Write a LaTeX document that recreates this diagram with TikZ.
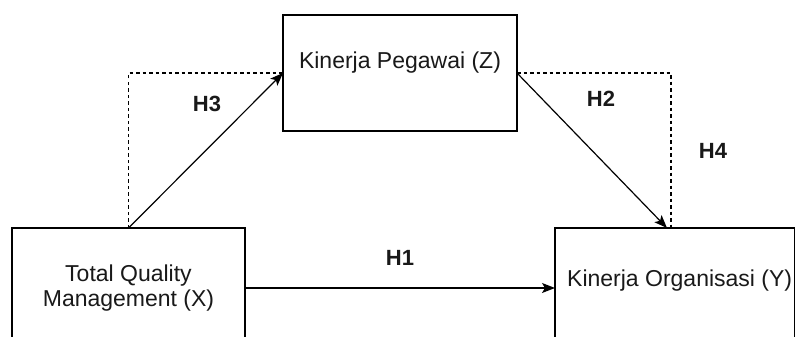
\documentclass[tikz,border=0pt]{standalone}
\usepackage{fontspec}
\setmainfont{Liberation Sans}
\usetikzlibrary{arrows.meta,calc}
\begin{document}
\begin{tikzpicture}[x=1pt,y=-1pt,
  box/.style={draw=black,line width=1.2pt,fill=white,minimum width=#1,inner sep=0pt,outer sep=0pt},
  txt/.style={font=\fontsize{23}{25.5}\selectfont,text=black!90,align=center,inner sep=0pt},
  hlab/.style={font=\fontsize{22}{25}\selectfont\bfseries,text=black!90,inner sep=0pt},
  conn/.style={line width=1.2pt,-{Stealth[length=13pt,width=10pt,inset=3pt]}},
  dashline/.style={line width=1.2pt,dash pattern=on 3.5pt off 3pt}]
\path[use as bounding box] (0,0) rectangle (795,337);
\clip (0,0) rectangle (795,337);
\node[box=233pt,minimum height=120pt] (lbox) at (128.5,288) {};
\node[box=234pt,minimum height=116pt] (tbox) at (400,73) {};
\node[box=240pt,minimum height=120pt] (rbox) at (675,288) {};
\node[txt] (ltxt) at (128.5,288) {Total Quality\\Management (X)};
\node[txt] (ttxt) at (400,63) {Kinerja Pegawai (Z)};
\node[txt,anchor=west] (rtxt) at (567,281) {Kinerja Organisasi (Y)};
\coordinate (rtop) at ($(rbox.north west)+(116,0)$);
\coordinate (rin) at ($(rbox.north west)+(112,0)$);
\draw[dashline] (lbox.north) |- (tbox.west);
\draw[dashline] (tbox.east) -| (rtop);
\draw[conn] (lbox.north) -- (tbox.west);
\draw[conn] (tbox.east) -- (rin);
\draw[conn] (lbox.east) -- (rbox.west);
\node[hlab] (h3) at (207,104) {H3};
\node[hlab] (h2) at (601,99) {H2};
\node[hlab] (h4) at (713,151) {H4};
\node[hlab] (h1) at (400,258) {H1};
\end{tikzpicture}
\end{document}
